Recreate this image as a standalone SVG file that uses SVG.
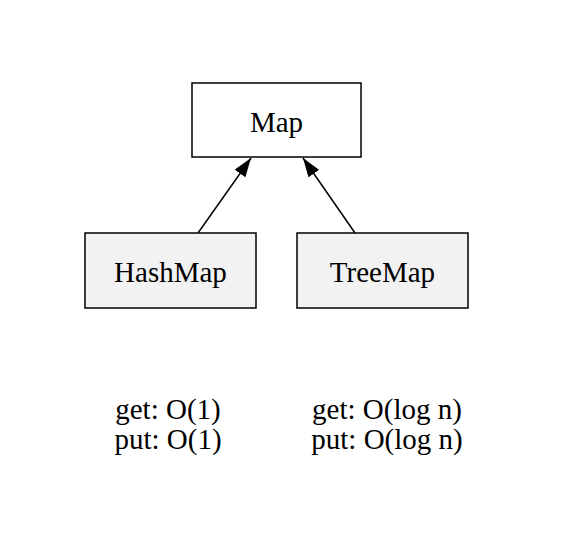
<svg xmlns="http://www.w3.org/2000/svg" width="567" height="546" viewBox="0 0 567 546">
<style>
text{font-family:"Liberation Serif","Times New Roman",serif;font-size:29px;text-anchor:middle;fill:#000}
.box{stroke:#000;stroke-width:1.5}
.edge{stroke:#000;stroke-width:1.5;fill:none}
</style>
<defs>
<marker id="arr" viewBox="0 0 19 13" refX="19" refY="6.5" markerWidth="19" markerHeight="13" markerUnits="userSpaceOnUse" orient="auto">
<path d="M0,0 L19,6.5 L0,13 z" fill="#000"/>
</marker>
</defs>
<rect width="567" height="546" fill="#fff"/>
<g id="connectors">
<line class="edge" x1="198" y1="233" x2="251" y2="158" marker-end="url(#arr)"/>
<line class="edge" x1="355" y1="233" x2="303" y2="158" marker-end="url(#arr)"/>
</g>
<g id="node-map">
<rect class="box" x="192" y="83" width="169" height="74" fill="#fff"/>
<text x="276.5" y="132">Map</text>
</g>
<g id="node-hashmap">
<rect class="box" x="85" y="233" width="171" height="75" fill="#f2f2f2"/>
<text x="170.5" y="282">HashMap</text>
</g>
<g id="node-treemap">
<rect class="box" x="297" y="233" width="171" height="75" fill="#f2f2f2"/>
<text x="382.5" y="282">TreeMap</text>
</g>
<g id="label-hashmap">
<text x="168" y="419">get: O(1)</text>
<text x="168" y="449">put: O(1)</text>
</g>
<g id="label-treemap">
<text x="387" y="419">get: O(log n)</text>
<text x="387" y="449">put: O(log n)</text>
</g>
</svg>
